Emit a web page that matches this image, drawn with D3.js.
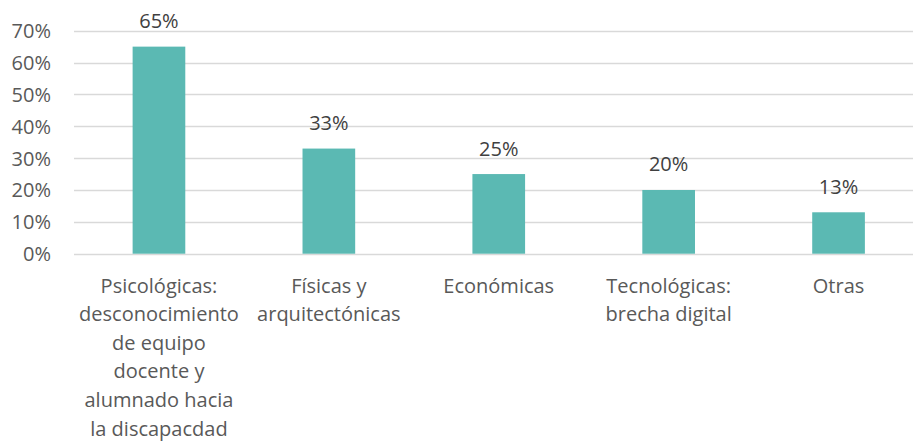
<!DOCTYPE html>
<html>
<head>
<meta charset="utf-8">
<script src="https://cdn.jsdelivr.net/npm/d3@7"></script>
<style>
    body { margin: 0; background: #fff; }
    svg text { font-family: "Open Sans", sans-serif; }
</style>
</head>
<body>
<svg class="chart" width="913" height="443"></svg>
<script>
var categories = [
    "Psicológicas:\ndesconocimiento\nde equipo\ndocente y\nalumnado hacia\nla discapacdad",
    "Físicas y\narquitectónicas",
    "Económicas",
    "Tecnológicas:\nbrecha digital",
    "Otras"
];
var values = [0.65, 0.33, 0.25, 0.20, 0.13];
var yTicks = [0, 0.1, 0.2, 0.3, 0.4, 0.5, 0.6, 0.7];

var svg = d3.select("svg.chart");
var fontSize = 20;

var xScale = d3.scaleBand()
    .domain(categories)
    .range([74, 923.5])
    .paddingInner(0.69)
    .paddingOuter(0.345);

var yScale = d3.scaleLinear()
    .domain([0, 0.7])
    .range([253.7, 30.7]);

var fmt = d3.format(".0%");

// gridlines
svg.append("g")
    .selectAll("line.grid")
    .data(yTicks)
    .enter()
    .append("line")
    .classed("grid", true)
    .attr("x1", 74)
    .attr("x2", 923.5)
    .attr("y1", function (d) { return Math.round(yScale(d)) + 0.5; })
    .attr("y2", function (d) { return Math.round(yScale(d)) + 0.5; })
    .attr("stroke", "#d9d9d9")
    .attr("stroke-width", 1.3);

// y axis labels
var yAxis = d3.axisLeft(yScale)
    .tickValues(yTicks)
    .tickFormat(fmt)
    .tickSize(0)
    .tickPadding(0);
var yAxisGroup = svg.append("g")
    .attr("transform", "translate(51,0)")
    .call(yAxis);
yAxisGroup.select(".domain").remove();
yAxisGroup.selectAll("text")
    .attr("font-size", fontSize)
    .attr("fill", "#595959")
    .attr("dy", "0.35em")
    .style("font-family", "'Open Sans', sans-serif");

// bars
svg.append("g")
    .selectAll("rect.bar")
    .data(values)
    .enter()
    .append("rect")
    .classed("bar", true)
    .attr("x", function (d, i) { return xScale(categories[i]); })
    .attr("width", xScale.bandwidth())
    .attr("y", function (d) { return yScale(d); })
    .attr("height", function (d) { return yScale(0) - yScale(d); })
    .attr("fill", "#5bb9b3");

// data labels
svg.append("g")
    .selectAll("text.value")
    .data(values)
    .enter()
    .append("text")
    .classed("value", true)
    .attr("x", function (d, i) { return xScale(categories[i]) + xScale.bandwidth() / 2; })
    .attr("y", function (d) { return yScale(d) - 18.5; })
    .attr("text-anchor", "middle")
    .attr("font-size", fontSize)
    .attr("fill", "#404040")
    .text(function (d) { return fmt(d); });

// category labels
var catGroups = svg.append("g")
    .selectAll("text.cat")
    .data(categories)
    .enter()
    .append("text")
    .classed("cat", true)
    .attr("text-anchor", "middle")
    .attr("font-size", fontSize)
    .attr("fill", "#595959");

catGroups.each(function (cat) {
    var x = xScale(cat) + xScale.bandwidth() / 2;
    var lines = cat.split("\n");
    d3.select(this)
        .selectAll("tspan")
        .data(lines)
        .enter()
        .append("tspan")
        .attr("x", x)
        .attr("y", function (d, i) { return 292.5 + i * 28.6; })
        .text(function (d) { return d; });
});
</script>
</body>
</html>
